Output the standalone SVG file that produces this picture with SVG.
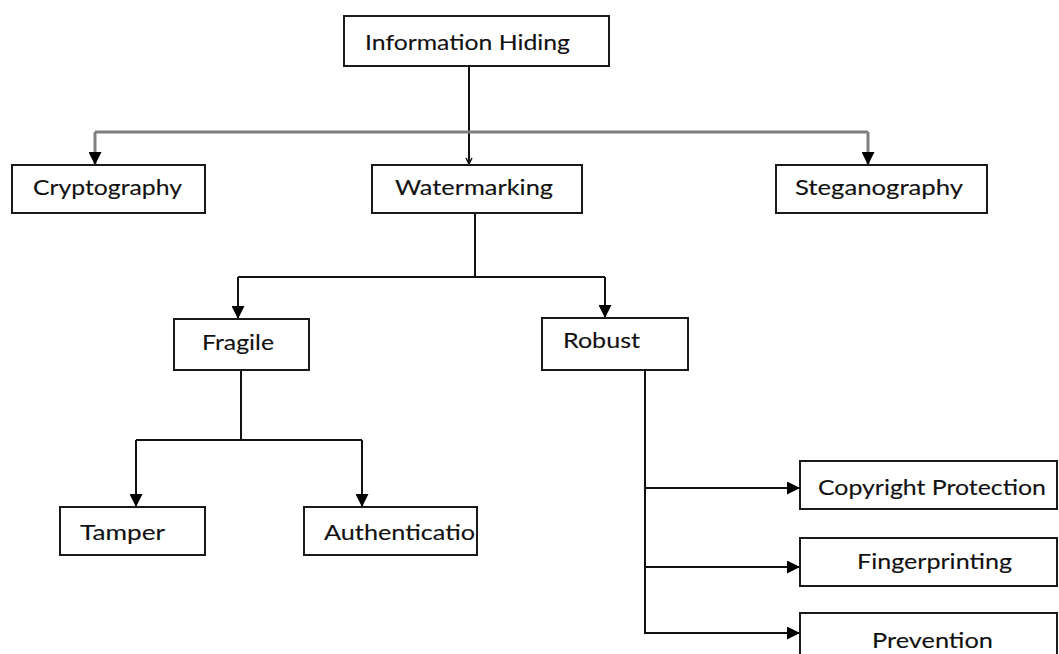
<svg xmlns="http://www.w3.org/2000/svg" width="1059" height="654" viewBox="0 0 1059 654">
<style>
.box{fill:#fff;stroke:#1a1a1a;stroke-width:2}
.t{font-family:Lato,"Open Sans","Liberation Sans",sans-serif;font-size:21.5px;fill:#111;stroke:#111;stroke-width:0.12}
.c{fill:none;stroke:#111;stroke-width:2}
.g{fill:none;stroke:#7f7f7f;stroke-width:3}
</style>
<defs>
<marker id="ah" markerUnits="userSpaceOnUse" markerWidth="13" markerHeight="13" refX="13" refY="6.5" orient="auto" viewBox="0 0 13 13"><path d="M0,0 L13,6.5 L0,13 z" fill="#000"/></marker>
<marker id="sm" markerUnits="userSpaceOnUse" markerWidth="8" markerHeight="8" refX="7" refY="4" orient="auto" viewBox="0 0 8 8"><path d="M1,1 L7,4 L1,7" fill="none" stroke="#111" stroke-width="1.5"/></marker>
</defs>
<rect width="1059" height="654" fill="#fff"/>
<g id="connectors">
<path class="c" d="M469,66 V164" marker-end="url(#sm)"/>
<path class="g" d="M95,132 H868"/>
<path class="g" d="M95,132 V165" marker-end="url(#ah)"/>
<path class="g" d="M868,132 V165" marker-end="url(#ah)"/>
<path class="c" d="M475,213 V277"/>
<path class="c" d="M238,277 H605"/>
<path class="c" d="M238,277 V319" marker-end="url(#ah)"/>
<path class="c" d="M605,277 V318" marker-end="url(#ah)"/>
<path class="c" d="M241,370 V440"/>
<path class="c" d="M136,440 H362"/>
<path class="c" d="M136,440 V507" marker-end="url(#ah)"/>
<path class="c" d="M362,440 V507" marker-end="url(#ah)"/>
<path class="c" d="M645,370 V633"/>
<path class="c" d="M644,488 H800" marker-end="url(#ah)"/>
<path class="c" d="M644,567 H800" marker-end="url(#ah)"/>
<path class="c" d="M644,633 H800" marker-end="url(#ah)"/>
</g>
<g id="info"><rect class="box" x="344" y="16" width="265" height="50"/><text class="t" x="365" y="50" textLength="205" lengthAdjust="spacingAndGlyphs">Information Hiding</text></g>
<g id="crypto"><rect class="box" x="12" y="165" width="193" height="48"/><text class="t" x="33" y="195" textLength="149" lengthAdjust="spacingAndGlyphs">Cryptography</text></g>
<g id="water"><rect class="box" x="372" y="165" width="210" height="48"/><text class="t" x="395" y="195" textLength="158" lengthAdjust="spacingAndGlyphs">Watermarking</text></g>
<g id="stego"><rect class="box" x="776" y="165" width="211" height="48"/><text class="t" x="795" y="195" textLength="168" lengthAdjust="spacingAndGlyphs">Steganography</text></g>
<g id="fragile"><rect class="box" x="174" y="319" width="135" height="51"/><text class="t" x="202" y="350" textLength="72" lengthAdjust="spacingAndGlyphs">Fragile</text></g>
<g id="robust"><rect class="box" x="542" y="318" width="146" height="52"/><text class="t" x="563" y="348" textLength="77" lengthAdjust="spacingAndGlyphs">Robust</text></g>
<g id="tamper"><rect class="box" x="60" y="507" width="145" height="48"/><text class="t" x="80" y="540" textLength="85" lengthAdjust="spacingAndGlyphs">Tamper</text></g>
<g id="auth"><rect class="box" x="304" y="507" width="173" height="48"/><text class="t" x="324" y="540" textLength="151" lengthAdjust="spacingAndGlyphs">Authenticatio</text></g>
<g id="copyright"><rect class="box" x="800" y="461" width="257" height="48"/><text class="t" x="818" y="495" textLength="228" lengthAdjust="spacingAndGlyphs">Copyright Protection</text></g>
<g id="finger"><rect class="box" x="800" y="538" width="257" height="48"/><text class="t" x="857" y="569" textLength="155" lengthAdjust="spacingAndGlyphs">Fingerprinting</text></g>
<g id="prevention"><rect class="box" x="800" y="613" width="257" height="48"/><text class="t" x="872" y="648" textLength="121" lengthAdjust="spacingAndGlyphs">Prevention</text></g>
</svg>
